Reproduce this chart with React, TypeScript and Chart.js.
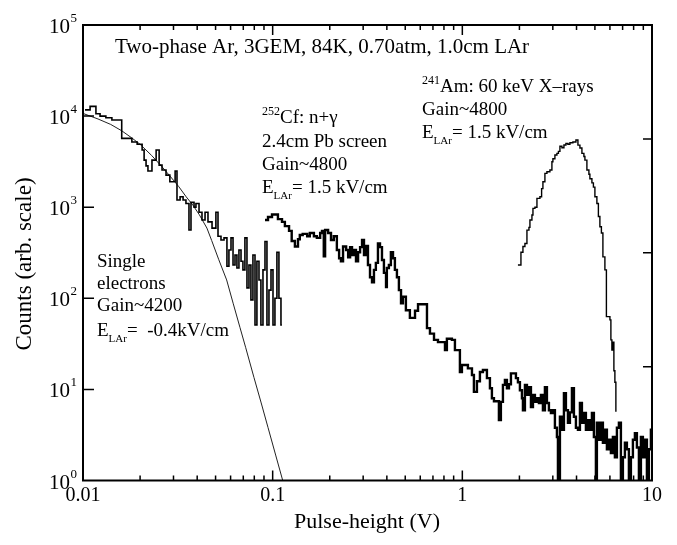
import React, { useEffect, useRef } from 'react';
import { Chart, registerables } from 'chart.js';

Chart.register(...registerables);

// ---- Data ----
// Single electrons histogram: bin left edges (V) and counts
const SE_X = [0.01025,0.0109,0.0117,0.0123,0.0132,0.0142,0.0160,0.0181,0.0193,0.0205,0.0210,0.0215,0.0220,0.0231,0.0243,0.0252,0.0261,0.0274,0.0287,0.0306,0.0313,0.0325,0.0337,0.0349,0.0362,0.0371,0.0385,0.0394,0.0409,0.0424,0.0440,0.0456,0.0479,0.0502,0.0515,0.0534,0.0554,0.0574,0.0588,0.0603,0.0618,0.0633,0.0648,0.0664,0.0681,0.0697,0.0714,0.0732,0.0750,0.0768,0.0787,0.0807,0.0826,0.0847,0.0867,0.0889,0.0911,0.0933,0.0956,0.0980,0.1004,0.1028,0.1053,0.1079,0.1106];
const SE_Y = [11700,12800,10600,10000,9600,9060,5700,5200,4900,4240,3290,2840,2500,3290,4240,2900,2560,2250,1900,2500,1200,1300,1200,1100,561,1130,1000,1100,880,723,880,690,590,880,480,436,460,225,339,460,232,299,215,339,255,205,460,130,232,96,299,51,255,159,51,205,420,51,123,205,51,100,320,100,51];
const SE_END = [0.1119, 51];

// Fit curve to the single-electron spectrum
const FIT_X = [0.010,0.012,0.014,0.016,0.018,0.020,0.023,0.026,0.029,0.032,0.035,0.038,0.041,0.045,0.0477,0.052,0.0572,0.062,0.0672,0.072,0.0797,0.087,0.0945,0.104,0.113];
const FIT_Y = [10700,9300,8100,6900,5800,4900,3700,2800,2150,1680,1300,1050,830,590,430,265,159,87,48,29,13.5,7.1,3.82,1.86,1.0];

// 252Cf n+gamma histogram
const CF_X = [0.0911,0.0945,0.0992,0.1066,0.112,0.116,0.122,0.126,0.131,0.136,0.139,0.144,0.152,0.157,0.165,0.171,0.178,0.182,0.186,0.189,0.196,0.203,0.210,0.218,0.224,0.229,0.235,0.244,0.250,0.256,0.262,0.268,0.275,0.282,0.289,0.296,0.303,0.310,0.318,0.326,0.334,0.342,0.350,0.359,0.368,0.377,0.386,0.396,0.400,0.410,0.420,0.431,0.441,0.452,0.463,0.475,0.486,0.504,0.529,0.563,0.584,0.651,0.675,0.709,0.744,0.810,0.829,0.881,0.914,0.971,0.995,1.070,1.124,1.151,1.194,1.238,1.284,1.348,1.398,1.432,1.468,1.559,1.597,1.637,1.677,1.718,1.761,1.804,1.917,1.964,2.012,2.062,2.087,2.138,2.191,2.245,2.300,2.357,2.414,2.474,2.534,2.596,2.660,2.725,2.793,2.861,2.931,3.003,3.077,3.153,3.192,3.270,3.350,3.433,3.517,3.604,3.692,3.783,3.876,3.971,4.069,4.169,4.271,4.375,4.483,4.593,4.705,4.822,4.939,5.061,5.122,5.249,5.377,5.510,5.645,5.784,5.926,6.071,6.220,6.373,6.531,6.691,6.856,7.024,7.196,7.373,7.554,7.740,7.931,8.125,8.325,8.530,8.740,8.954,9.175,9.400,9.630,9.867];
const CF_Y = [723,780,830,740,690,620,550,425,370,445,495,510,480,520,480,460,520,550,290,561,520,436,480,339,275,255,370,339,282,365,299,339,255,320,365,436,299,375,232,170,150,205,245,400,365,263,190,133,215,232,320,275,205,170,123,88,104,74,61,73,86,47,41,35,33,27,36,35,27,15.5,18.5,17,14.4,9.4,12.3,15.5,16.3,13.3,10.3,8.0,7.4,4.6,7.3,11.2,12.7,10.3,11.4,15,13.3,12,9.8,8.0,5.9,11.2,8.7,10.6,6.4,8.7,7.3,8.0,7.1,8.7,5.9,10.6,7.1,5.9,5.5,5.9,3.8,3.0,0.3,5.0,3.6,9.1,5.9,4.3,5.6,10.3,5.0,3.8,3.6,7.1,4.3,5.5,3.6,4.6,3.6,5.5,3.0,0.3,4.3,2.8,4.3,2.6,3.6,2.2,2.8,2.0,3.0,1.8,3.8,4.3,0.3,1.8,2.6,2.2,0.3,1.8,2.8,3.3,2.3,0.3,3.0,1.8,2.8,0.3,2.2,3.6];
const CF_END = [10, 3.6];

// 241Am 60 keV X-ray histogram
const AM_X = [1.964,2.037,2.087,2.138,2.191,2.245,2.272,2.328,2.357,2.414,2.474,2.565,2.618,2.660,2.725,2.793,2.896,2.967,3.003,3.077,3.153,3.211,3.270,3.350,3.433,3.517,3.604,3.692,3.828,3.971,4.069,4.169,4.271,4.375,4.429,4.537,4.649,4.705,4.822,4.910,5.000,5.122,5.216,5.312,5.410,5.510,5.645,5.749,5.876,6.000,6.071,6.145,6.220,6.296,6.373];
const AM_Y = [232,320,370,400,560,600,723,820,970,1000,1250,1300,1600,1900,2350,2450,2560,3150,3400,3740,3900,4100,4660,4500,4810,5000,4900,5100,5200,5460,4800,4460,3900,3600,3290,2560,2300,2050,1850,1660,1300,1100,790,610,520,285,205,63,63,58,35,27,33,16,12];
const AM_END = [6.45, 5.7];

// Axes
const X_MIN = 0.01, X_MAX = 10;
const Y_MIN = 1, Y_MAX = 100000;
const X_TICKS = [0.01, 0.1, 1, 10];
const X_TICK_LABELS = ['0.01', '0.1', '1', '10'];
const Y_TICKS = [1, 10, 100, 1000, 10000, 100000];
const Y_TICK_EXP = ['0', '1', '2', '3', '4', '5'];
const RIGHT_TICKS = [1, 2, 3];

const FONT = '"Liberation Serif", "Times New Roman", serif';

type Run = { t: string; size?: number; dy?: number };

function pts(xs: number[], ys: number[], end?: number[]) {
  const n = Math.min(xs.length, ys.length);
  const out: { x: number; y: number }[] = [];
  for (let i = 0; i < n; i++) out.push({ x: xs[i], y: ys[i] });
  if (end) out.push({ x: end[0], y: end[1] });
  return out;
}

function drawRuns(ctx: CanvasRenderingContext2D, x: number, y: number, runs: Run[], base: number) {
  let cx = x;
  for (const r of runs) {
    const s = r.size ?? base;
    ctx.font = `${s}px ${FONT}`;
    ctx.fillText(r.t, cx, y + (r.dy ?? 0));
    cx += ctx.measureText(r.t).width;
  }
}

const framePlugin = {
  id: 'framePlugin',
  afterDatasetsDraw(chart: any) {
    const { ctx, chartArea: a, scales } = chart;
    const xs = scales.x, ys = scales.y, y2 = scales.y2;
    ctx.save();
    ctx.strokeStyle = '#000';
    ctx.fillStyle = '#000';
    ctx.lineWidth = 2;
    ctx.strokeRect(a.left, a.top, a.right - a.left, a.bottom - a.top);

    ctx.lineWidth = 1.5;
    ctx.beginPath();
    for (const d of [0.01, 0.1, 1]) {
      for (let k = 1; k <= 9; k++) {
        const v = d * k;
        if (v <= X_MIN || v >= X_MAX) continue;
        const px = xs.getPixelForValue(v);
        const len = k === 1 ? 10 : 5;
        ctx.moveTo(px, a.bottom);
        ctx.lineTo(px, a.bottom - len);
        ctx.moveTo(px, a.top);
        ctx.lineTo(px, a.top + len);
      }
    }
    for (const v of Y_TICKS) {
      if (v <= Y_MIN || v >= Y_MAX) continue;
      const py = ys.getPixelForValue(v);
      ctx.moveTo(a.left, py);
      ctx.lineTo(a.left + 11, py);
    }
    for (const v of RIGHT_TICKS) {
      const py = y2.getPixelForValue(v);
      ctx.moveTo(a.right, py);
      ctx.lineTo(a.right - 9, py);
    }
    ctx.stroke();

    // x tick labels
    ctx.textAlign = 'center';
    ctx.textBaseline = 'alphabetic';
    ctx.font = `20px ${FONT}`;
    X_TICKS.forEach((v, i) => {
      ctx.fillText(X_TICK_LABELS[i], xs.getPixelForValue(v), 501);
    });

    // y tick labels 10^n
    Y_TICKS.forEach((v, i) => {
      const py = ys.getPixelForValue(v);
      ctx.textAlign = 'right';
      ctx.font = `21px ${FONT}`;
      ctx.fillText('10', 70, py + 8);
      ctx.textAlign = 'left';
      ctx.font = `13px ${FONT}`;
      ctx.fillText(Y_TICK_EXP[i], 70.5, py - 3);
    });

    // axis titles
    ctx.textAlign = 'center';
    ctx.font = `22px ${FONT}`;
    ctx.fillText('Pulse-height (V)', 367, 528);
    ctx.save();
    ctx.translate(31, 264);
    ctx.rotate(-Math.PI / 2);
    ctx.font = `23px ${FONT}`;
    ctx.fillText('Counts (arb. scale)', 0, 0);
    ctx.restore();

    // annotations
    ctx.textAlign = 'left';
    drawRuns(ctx, 115, 53, [{ t: 'Two-phase Ar, 3GEM, 84K, 0.70atm, 1.0cm LAr' }], 21);

    const A = 19;
    drawRuns(ctx, 262, 123, [{ t: '252', size: 12, dy: -8 }, { t: 'Cf: n+γ' }], A);
    drawRuns(ctx, 262, 147, [{ t: '2.4cm Pb screen' }], A);
    drawRuns(ctx, 262, 170, [{ t: 'Gain~4800' }], A);
    drawRuns(ctx, 262, 193, [{ t: 'E' }, { t: 'LAr', size: 11, dy: 6 }, { t: '= 1.5 kV/cm' }], A);

    drawRuns(ctx, 422, 92, [{ t: '241', size: 12, dy: -8 }, { t: 'Am: 60 keV X–rays' }], A);
    drawRuns(ctx, 422, 115, [{ t: 'Gain~4800' }], A);
    drawRuns(ctx, 422, 138, [{ t: 'E' }, { t: 'LAr', size: 11, dy: 6 }, { t: '= 1.5 kV/cm' }], A);

    drawRuns(ctx, 97, 267, [{ t: 'Single' }], A);
    drawRuns(ctx, 97, 289, [{ t: 'electrons' }], A);
    drawRuns(ctx, 97, 311, [{ t: 'Gain~4200' }], A);
    drawRuns(ctx, 97, 336, [{ t: 'E' }, { t: 'LAr', size: 11, dy: 6 }, { t: '=  -0.4kV/cm' }], A);

    ctx.restore();
  },
};

export default function App() {
  const ref = useRef<HTMLCanvasElement>(null);

  useEffect(() => {
    if (!ref.current) return;
    const common = { pointRadius: 0, pointHoverRadius: 0, tension: 0, fill: false, borderColor: '#000' };
    const chart = new Chart(ref.current, {
      type: 'line',
      data: {
        datasets: [
          { ...common, label: 'Single electrons', data: pts(SE_X, SE_Y, SE_END), stepped: 'before', borderWidth: 1.6 } as any,
          { ...common, label: 'Fit', data: pts(FIT_X, FIT_Y), borderWidth: 1, borderColor: '#222' } as any,
          { ...common, label: '252Cf', data: pts(CF_X, CF_Y, CF_END), stepped: 'before', borderWidth: 2.4 } as any,
          { ...common, label: '241Am', data: pts(AM_X, AM_Y, AM_END), stepped: 'before', borderWidth: 1.4 } as any,
        ],
      },
      options: {
        animation: false,
        responsive: true,
        maintainAspectRatio: false,
        events: [],
        layout: { padding: { left: 83, top: 25, right: 25, bottom: 64.5 } },
        plugins: { legend: { display: false }, tooltip: { enabled: false } },
        scales: {
          x: { type: 'logarithmic', min: X_MIN, max: X_MAX, display: false },
          y: { type: 'logarithmic', min: Y_MIN, max: Y_MAX, display: false },
          y2: { type: 'linear', min: 0, max: 4, display: false, position: 'right' },
        },
      },
      plugins: [framePlugin],
    });
    return () => chart.destroy();
  }, []);

  return (
    <div style={{ position: 'fixed', left: 0, top: 0, width: 677, height: 545, background: '#fff' }}>
      <canvas ref={ref} />
    </div>
  );
}
